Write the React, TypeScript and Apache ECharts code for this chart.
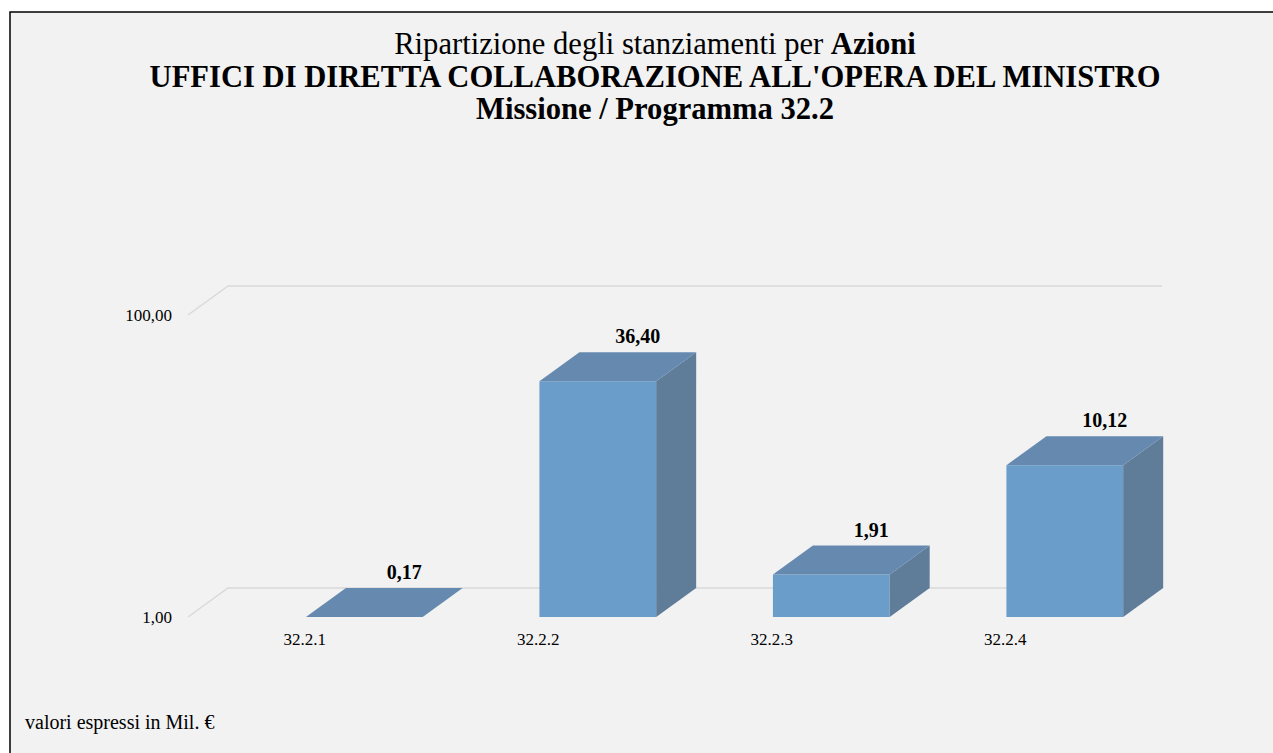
import React, { useEffect, useRef } from "react";
import * as echarts from "echarts";

const categories = ["32.2.1", "32.2.2", "32.2.3", "32.2.4"];
const values = [0.17, 36.4, 1.91, 10.12];
const valueLabels = ["0,17", "36,40", "1,91", "10,12"];
const yTicks = [1, 100];
const yTickLabels = ["1,00", "100,00"];

const titleLine1 = "Ripartizione degli stanziamenti per ";
const titleLine1Bold = "Azioni";
const titleLine2 = "UFFICI DI DIRETTA COLLABORAZIONE ALL'OPERA DEL MINISTRO";
const titleLine3 = "Missione / Programma 32.2";
const footnote = "valori espressi in Mil. €";

const FONT = "'Liberation Serif', 'Times New Roman', serif";
const DX = 40;
const DY = -29;

export default function App() {
  const ref = useRef<HTMLDivElement>(null);

  useEffect(() => {
    if (!ref.current) return;
    const chart = echarts.init(ref.current, undefined, { renderer: "svg" });
    const nCat = categories.length;

    chart.setOption({
      animation: false,
      backgroundColor: "#ffffff",
      graphic: [
        {
          type: "rect",
          shape: { x: 10, y: 12, width: 1300, height: 800 },
          style: { fill: "#f2f2f2", stroke: "#000000", lineWidth: 1.5 },
          z: -10,
          silent: true,
        },
        {
          type: "text",
          x: 25,
          y: 722,
          style: {
            text: footnote,
            font: `20px ${FONT}`,
            fill: "#000000",
            verticalAlign: "middle",
          },
        },
      ],
      title: {
        text:
          `{n|${titleLine1}}{b|${titleLine1Bold}}\n{b|${titleLine2}}\n{b|${titleLine3}}`,
        left: 650,
        top: 23,
        textAlign: "center",
        textStyle: {
          fontFamily: FONT,
          rich: {
            n: { fontFamily: FONT, fontSize: 30.6, fontWeight: "normal", color: "#000", lineHeight: 32.5 },
            b: { fontFamily: FONT, fontSize: 30.6, fontWeight: "bold", color: "#000", lineHeight: 32.5 },
          },
        },
      },
      grid: { left: 188, right: 151, top: 315, bottom: 136 },
      xAxis: {
        type: "category",
        data: categories,
        axisLine: { show: false },
        axisTick: { show: false },
        axisLabel: { fontFamily: FONT, fontSize: 17, color: "#000", margin: 14 },
      },
      yAxis: {
        type: "log",
        logBase: 10,
        min: 1,
        max: 100,
        axisLine: { show: false },
        axisTick: { show: false },
        splitLine: { show: false },
        axisLabel: {
          fontFamily: FONT,
          fontSize: 17,
          color: "#000",
          margin: 16,
          formatter: (v: number) => {
            const i = yTicks.findIndex((t) => Math.abs(t - v) < 1e-9);
            return i >= 0 ? yTickLabels[i] : "";
          },
        },
      },
      series: [
        {
          type: "custom",
          z: 1,
          silent: true,
          data: yTicks.map((t) => [0, t]),
          renderItem: (params: any, api: any) => {
            const p = api.coord([0, api.value(1)]);
            const band = api.size([1, 0])[0];
            const left = p[0] - band / 2;
            const right = left + band * nCat;
            return {
              type: "polyline",
              shape: {
                points: [
                  [left, p[1]],
                  [left + DX, p[1] + DY],
                  [right + DX, p[1] + DY],
                ],
              },
              style: { stroke: "#d9d9d9", lineWidth: 1.5, fill: "none" },
            };
          },
        },
        {
          type: "custom",
          z: 2,
          silent: true,
          data: values.map((v, i) => [i, v]),
          renderItem: (params: any, api: any) => {
            const idx = api.value(0);
            const v = Math.max(api.value(1), 1);
            const top = api.coord([idx, v]);
            const base = api.coord([idx, 1]);
            const band = api.size([1, 0])[0];
            const x0 = top[0] + band * 0.005;
            const w = band * 0.5;
            const yT = top[1];
            const yB = base[1];
            const children: any[] = [];
            if (yB - yT > 0.5) {
              children.push({
                type: "rect",
                shape: { x: x0, y: yT, width: w, height: yB - yT },
                style: { fill: "#6b9dcb" },
              });
              children.push({
                type: "polygon",
                shape: {
                  points: [
                    [x0 + w, yT],
                    [x0 + w + DX, yT + DY],
                    [x0 + w + DX, yB + DY],
                    [x0 + w, yB],
                  ],
                },
                style: { fill: "#5f7c99" },
              });
            }
            children.push({
              type: "polygon",
              shape: {
                points: [
                  [x0, yT],
                  [x0 + w, yT],
                  [x0 + w + DX, yT + DY],
                  [x0 + DX, yT + DY],
                ],
              },
              style: { fill: "#668aaf" },
            });
            children.push({
              type: "text",
              x: x0 + w / 2 + DX,
              y: yT + DY - 6,
              style: {
                text: valueLabels[params.dataIndex],
                font: `bold 20px ${FONT}`,
                fill: "#000",
                align: "center",
                verticalAlign: "bottom",
              },
            });
            return { type: "group", children };
          },
        },
      ],
    });

    return () => chart.dispose();
  }, []);

  return (
    <div
      ref={ref}
      style={{ position: "absolute", left: 0, top: 0, width: 1273, height: 753 }}
    />
  );
}
